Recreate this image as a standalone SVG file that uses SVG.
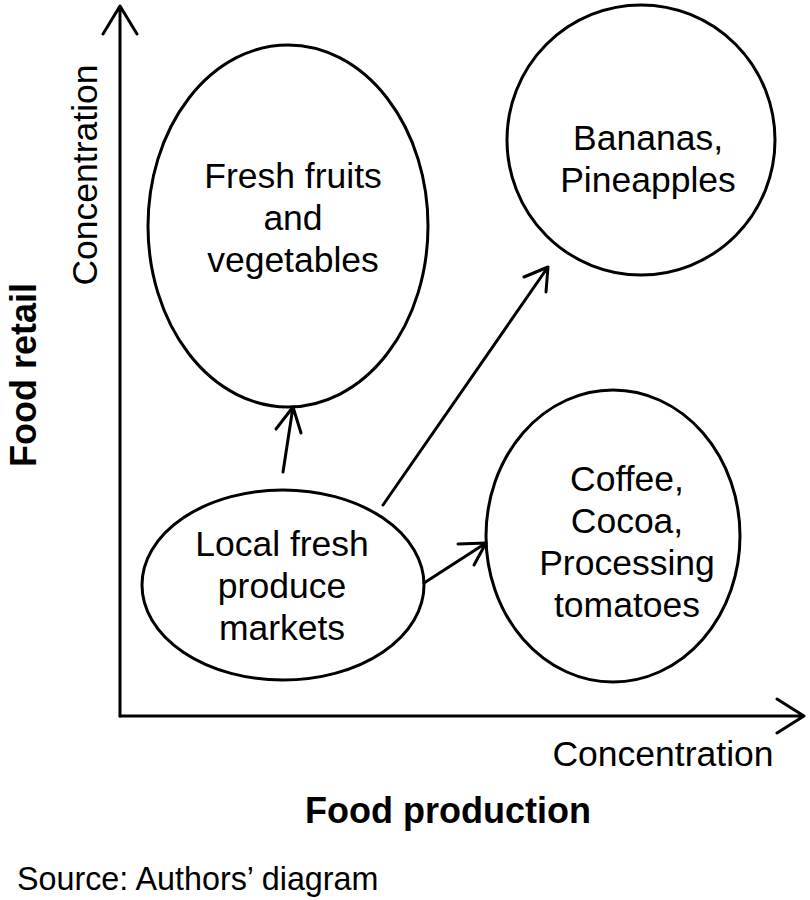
<svg xmlns="http://www.w3.org/2000/svg" width="810" height="900" viewBox="0 0 810 900">
<style>
.n{fill:none;stroke:#000;stroke-width:3}
.t{font-family:"Liberation Sans",Arial,sans-serif;font-size:35.5px;fill:#000;text-anchor:middle}
.b{font-family:"Liberation Sans",Arial,sans-serif;font-size:36px;font-weight:bold;fill:#000;text-anchor:middle}
.c{fill:none;stroke:#000;stroke-width:3;stroke-linecap:round;stroke-linejoin:round}
</style>
<rect width="810" height="900" fill="#fff"/>
<g id="axes" class="c">
<path d="M120,716 V6 M103,34 L120,6 L137,34"/>
<path d="M120,716 H804 M777,699 L804,716 L777,733"/>
</g>
<g id="node-fresh"><ellipse class="n" cx="288" cy="226" rx="140" ry="181"/>
<text class="t" x="293" y="188">Fresh fruits</text><text class="t" x="293" y="230">and</text><text class="t" x="293" y="272">vegetables</text></g>
<g id="node-bananas"><ellipse class="n" cx="641" cy="140" rx="134" ry="135"/>
<text class="t" x="648" y="150">Bananas,</text><text class="t" x="648" y="192">Pineapples</text></g>
<g id="node-local"><ellipse class="n" cx="283" cy="585" rx="141" ry="95"/>
<text class="t" x="282" y="556">Local fresh</text><text class="t" x="282" y="598">produce</text><text class="t" x="282" y="640">markets</text></g>
<g id="node-coffee"><ellipse class="n" cx="613" cy="536" rx="127" ry="146"/>
<text class="t" x="627" y="491">Coffee,</text><text class="t" x="627" y="533">Cocoa,</text><text class="t" x="627" y="575">Processing</text><text class="t" x="627" y="617">tomatoes</text></g>
<g id="connectors" class="c">
<path d="M283,472 L293,407 M276,429 L293,407 L301,433"/>
<path d="M383,505 L548,267 M524,277 L548,267 L546,292"/>
<path d="M424,583 L486,543 M458,544 L486,543 L474,565"/>
</g>
<g id="labels">
<text class="t" x="663" y="766">Concentration</text>
<text class="t" transform="translate(97,175) rotate(-90)">Concentration</text>
<text class="b" x="448" y="823">Food production</text>
<text class="b" transform="translate(36,375) rotate(-90)">Food retail</text>
<text style="font-family:'Liberation Sans',Arial,sans-serif;font-size:32.3px" x="17" y="890">Source: Authors’ diagram</text>
</g>
</svg>
